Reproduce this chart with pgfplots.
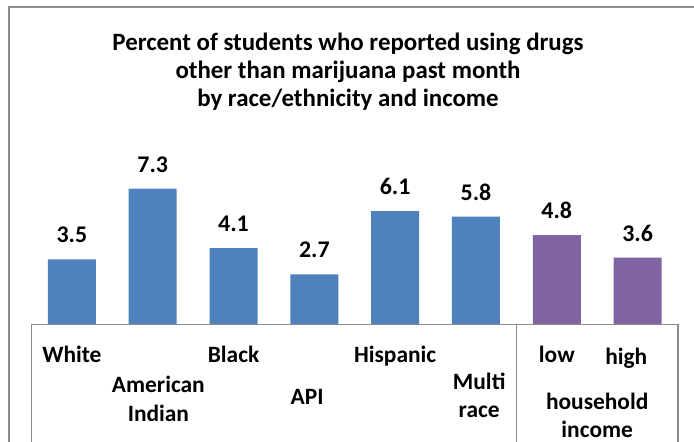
\documentclass[border=0pt]{standalone}
\usepackage{pgfplots}
\pgfplotsset{compat=1.18}
\usepackage{fontspec}
\setmainfont{Carlito}
\definecolor{barblue}{HTML}{4F81BD}
\definecolor{barpurple}{HTML}{8064A2}
\definecolor{framegray}{HTML}{8C8C8C}
\begin{document}
\begin{tikzpicture}[x=1bp,y=1bp]
\useasboundingbox (0,0) rectangle (694,442);
\tikzset{lab/.style={font=\fontsize{23.5}{28}\selectfont\bfseries, anchor=base, inner sep=0pt},
         ttl/.style={font=\fontsize{25}{28}\selectfont\bfseries, anchor=base, inner sep=0pt}}
% outer frame
\draw[framegray, line width=1.5bp] (9,-5) -- (9,435) -- (700,435);
% title
\node[ttl] at (348,391) {Percent of students who reported using drugs};
\node[ttl] at (348,363) {other than marijuana past month};
\node[ttl] at (348,335) {by race/ethnicity and income};
\begin{axis}[
  at={(31.5bp,117.5bp)}, anchor=south west,
  scale only axis, width=646.5bp, height=186bp,
  xmin=-0.5, xmax=7.5, ymin=0, ymax=10,
  axis lines=none, clip=false,
  ybar, bar width=48bp, bar shift=0pt,
  /pgf/number format/assume math mode=true,
  nodes near coords={\pgfmathprintnumber[fixed,fixed zerofill,precision=1]{\pgfplotspointmeta}},
  every node near coord/.append style={font=\fontsize{24}{28}\selectfont\bfseries, anchor=base, inner sep=0pt, yshift=16.5bp, text=black},
]
\addplot[fill=barblue, draw=none] coordinates {(0,3.5) (1,7.3) (2,4.1) (3,2.7) (4,6.1) (5,5.8)};
\addplot[fill=barpurple, draw=none] coordinates {(6,4.8) (7,3.6)};
% table lines
\draw[framegray, line width=1.5bp] (axis cs:-0.5,-7) -- (axis cs:-0.5,0) -- (axis cs:7.5,0) -- (axis cs:7.5,-7);
\draw[framegray, line width=1.5bp] (axis cs:5.5,0) -- (axis cs:5.5,-7);
% category labels
\path (axis cs:0,0) node[lab, yshift=-38.5bp] {White};
\path (axis cs:1.07,0) node[lab, yshift=-68.5bp] {American};
\path (axis cs:1.07,0) node[lab, yshift=-97.5bp] {Indian};
\path (axis cs:2,0) node[lab, yshift=-38.5bp] {Black};
\path (axis cs:2.91,0) node[lab, yshift=-80.5bp] {API};
\path (axis cs:4,0) node[lab, yshift=-38.5bp] {Hispanic};
\path (axis cs:5.04,0) node[lab, yshift=-65.5bp] {Multi};
\path (axis cs:5.04,0) node[lab, yshift=-93.5bp] {race};
\path (axis cs:6,0) node[lab, yshift=-38.5bp] {low};
\path (axis cs:6.86,0) node[lab, yshift=-40bp] {high};
\path (axis cs:6.5,0) node[lab, yshift=-85.5bp] {household};
\path (axis cs:6.5,0) node[lab, yshift=-113bp] {income};
\end{axis}
\end{tikzpicture}
\end{document}
